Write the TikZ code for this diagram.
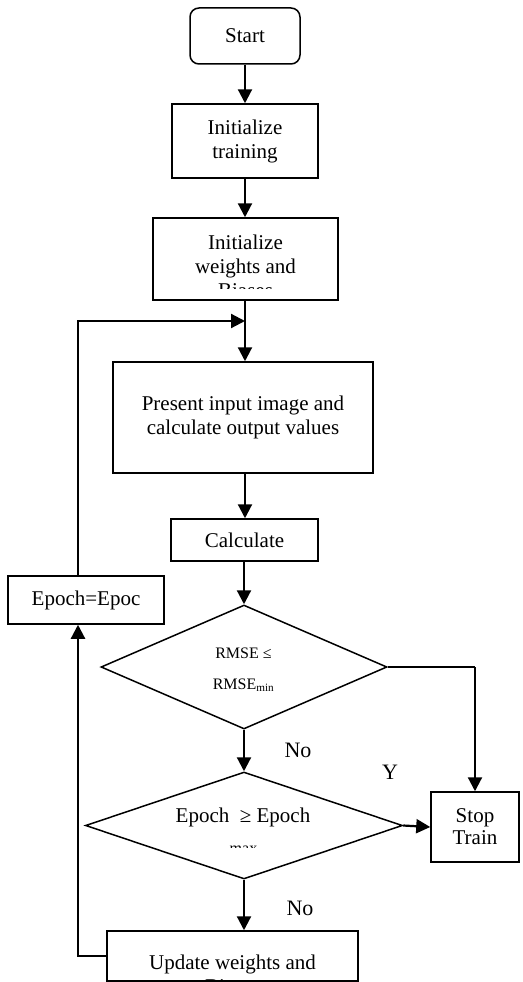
\documentclass[tikz,border=0pt]{standalone}
\usepackage{fontspec}
\setmainfont{Liberation Serif}
\usetikzlibrary{shapes.geometric,arrows.meta}
\begin{document}
\begin{tikzpicture}[x=1pt,y=-1pt,
 box/.style={draw,line width=1.5pt,rectangle,inner sep=0pt,align=center,font=\fontsize{21}{24}\selectfont},
 dia/.style={draw,line width=1.5pt,diamond,inner sep=0pt},
 flow/.style={line width=2.2pt,-{Triangle[length=14pt,width=14pt]}},
 plain/.style={line width=2.2pt},
 lbl/.style={font=\fontsize{21}{24}\selectfont,inner sep=0pt,align=center},
 small/.style={font=\fontsize{16}{18}\selectfont,inner sep=0pt,align=center}]
\useasboundingbox (0,0) rectangle (522,982);

% nodes
\node[box,rounded corners=9pt,minimum width=110pt,minimum height=56pt] (start) at (245,36) {Start};
\node[box,minimum width=146pt,minimum height=74pt] (inittrain) at (245,141) {Initialize\\training};
\node[box,minimum width=185pt,minimum height=82pt] (initw) at (245.5,259) {};
\begin{scope}
 \clip (153,218) rectangle (338,288);
 \node[lbl] (initwtext) at (245.5,266) {Initialize\\weights and\\Biases};
\end{scope}
\node[box,minimum width=260pt,minimum height=111pt] (present) at (243,417.5) {Present input image and\\calculate output values};
\node[box,minimum width=147pt,minimum height=42pt] (calc) at (244.5,540) {Calculate};
\node[dia,minimum width=286pt,minimum height=124pt] (d1) at (244,667) {};
\node[small] (d1a) at (243.5,653) {RMSE ≤};
\node[small] (d1b) at (243.5,685) {RMSE\textsubscript{min}};
\node[dia,minimum width=317pt,minimum height=107pt] (d2) at (244,825.5) {};
\node[lbl] (d2a) at (243,817) {Epoch\ \ ≥ Epoch};
\begin{scope}
 \clip (150,800) rectangle (340,847.5);
 \node[small,anchor=base] (d2b) at (243.5,853) {max};
\end{scope}
\node[box,minimum width=88pt,minimum height=70pt] (stop) at (475,827) {Stop\\[-2pt]Train};
\node[box,minimum width=251pt,minimum height=50pt] (upd) at (232.5,956) {};
\begin{scope}
 \clip (107,931) rectangle (358,981);
 \node[lbl] (updtext) at (232.5,974) {Update weights and\\Biases};
\end{scope}
\node[box,minimum width=156pt,minimum height=48pt] (epoch) at (86,600) {Epoch=Epoc};

\node[lbl,font=\fontsize{22}{24}\selectfont] (no1) at (298,750) {No};
\node[lbl,font=\fontsize{22}{24}\selectfont] (yes) at (390,772) {Y};
\node[lbl,font=\fontsize{22}{24}\selectfont] (no2) at (300,908) {No};

% coordinates
\coordinate (join) at (245,321);
\coordinate (loopx) at (78,956);
\coordinate (turn) at (475,667);

% connectors
\draw[flow] (start.south) -- (inittrain.north);
\draw[flow] (inittrain.south) -- (initw.north -| inittrain.south);
\draw[flow] (join |- initw.south) -- (join |- present.north);
\draw[flow] (join |- present.south) -- (join |- calc.north);
\draw[flow] (calc.south -| d1.north) -- (d1.north);
\draw[flow] (d1.south) -- (d2.north);
\draw[plain] (d1.east) -- (turn);
\draw[flow] (turn) -- (stop.north);
\draw[flow] (d2.east) -- (stop.west);
\draw[flow] (d2.south) -- (d2.south |- upd.north);
\draw[flow] (upd.west) -- (loopx) -- (loopx |- epoch.south);
\draw[flow] (loopx |- epoch.north) -- (loopx |- join) -- (join);
\end{tikzpicture}
\end{document}
